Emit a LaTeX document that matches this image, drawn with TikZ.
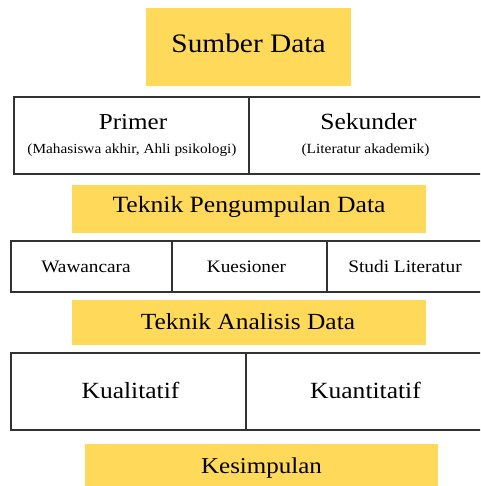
\documentclass[tikz,border=0pt]{standalone}
\usepackage{fontspec}
\setmainfont{Liberation Serif}[FakeStretch=1.1]
\definecolor{boxyellow}{RGB}{255,218,90}
\definecolor{edgegray}{RGB}{50,50,50}
\begin{document}
\begin{tikzpicture}[x=1pt,y=-1pt,
  ybox/.style={rectangle,fill=boxyellow,draw=none,inner sep=0pt,minimum width=#1},
  cell/.style={rectangle,draw=edgegray,line width=1.3pt,fill=white,inner sep=0pt,minimum width=#1},
  txt/.style={inner sep=0pt,text=black,anchor=base}]
\useasboundingbox (0,0) rectangle (480,486);
\clip (0,0) rectangle (480,486);
% Sumber Data
\node[ybox=205pt,minimum height=78pt] (sd) at (248.5,47) {};
\node[txt] (sdT) at (248.5,52.5) {\fontsize{26.7}{30}\selectfont Sumber Data};
% Primer / Sekunder
\node[cell=235pt,minimum height=77pt] (primer) at (131.5,135.5) {};
\node[cell=237pt,minimum height=77pt] (sekunder) at (367.5,135.5) {};
\node[txt] (primerT) at (133,130) {\fontsize{22.8}{26}\selectfont Primer};
\node[txt] (primerC) at (132,153.5) {\fontsize{13.9}{16}\selectfont (Mahasiswa akhir, Ahli psikologi)};
\node[txt] (sekunderT) at (368.5,130) {\fontsize{23.2}{26}\selectfont Sekunder};
\node[txt] (sekunderC) at (365.5,153.5) {\fontsize{14}{16}\selectfont (Literatur akademik)};
% Teknik Pengumpulan Data
\node[ybox=354pt,minimum height=48pt] (tpd) at (249,209) {};
\node[txt] (tpdT) at (249,212.5) {\fontsize{23.3}{26}\selectfont Teknik Pengumpulan Data};
% Wawancara / Kuesioner / Studi Literatur
\node[cell=161pt,minimum height=51pt] (waw) at (91.5,266.5) {};
\node[cell=155pt,minimum height=51pt] (kue) at (249.5,266.5) {};
\node[cell=157pt,minimum height=51pt] (stu) at (405.5,266.5) {};
\node[txt] (wawT) at (86,272) {\fontsize{17.5}{20}\selectfont Wawancara};
\node[txt] (kueT) at (246.5,272) {\fontsize{17.5}{20}\selectfont Kuesioner};
\node[txt] (stuT) at (405,272) {\fontsize{17.6}{20}\selectfont Studi Literatur};
% Teknik Analisis Data
\node[ybox=354pt,minimum height=45pt] (tad) at (249,322.5) {};
\node[txt] (tadT) at (248,329) {\fontsize{23.1}{26}\selectfont Teknik Analisis Data};
% Kualitatif / Kuantitatif
\node[cell=235pt,minimum height=77pt] (kual) at (128.5,391.5) {};
\node[cell=240pt,minimum height=77pt] (kuan) at (366,391.5) {};
\node[txt] (kualT) at (130.5,398) {\fontsize{23.2}{26}\selectfont Kualitatif};
\node[txt] (kuanT) at (365.5,398) {\fontsize{23.2}{26}\selectfont Kuantitatif};
% Kesimpulan
\node[ybox=353pt,minimum height=42pt] (kes) at (261.5,465) {};
\node[txt] (kesT) at (261.5,473) {\fontsize{22.7}{26}\selectfont Kesimpulan};
\end{tikzpicture}
\end{document}
